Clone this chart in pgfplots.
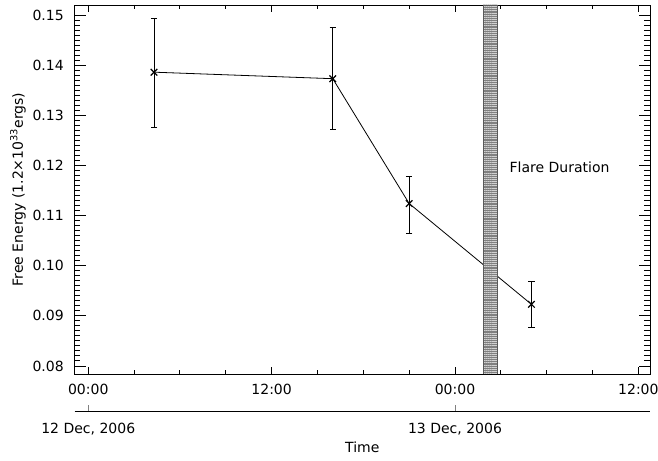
\documentclass[border=0pt]{standalone}
\usepackage{fontspec}
\setmainfont{DejaVu Sans}
\usepackage{pgfplots}
\pgfplotsset{compat=1.18}
\usetikzlibrary{patterns.meta}
\begin{document}
\begin{tikzpicture}[font=\fontsize{10.5}{12.5}\selectfont]
\useasboundingbox (-56.0pt,-65.25pt) rectangle (437.5pt,280.5pt);
\begin{axis}[
 scale only axis, width=431.5pt, height=276.75pt,
 at={(0,0)}, anchor=south west,
 font=\fontsize{10.5}{12.5}\selectfont,
 xmin=-0.89, xmax=36.76, ymin=78.4, ymax=152,
 xtick={0,12,24,36}, xticklabels={00:00,12:00,00:00,12:00},
 minor x tick num=3,
 ytick={80,90,100,110,120,130,140,150},
 yticklabels={0.08,0.09,0.10,0.11,0.12,0.13,0.14,0.15},
 minor y tick num=9,
 tick align=inside,
 major tick length=8.6pt, minor tick length=4.3pt,
 axis line style={line width=0.7pt},
 tick style={black, line width=0.7pt},
 xtick style={/pgfplots/major tick length=5.5pt,/pgfplots/minor tick length=2.8pt},
 xticklabel style={yshift=-4.2pt},
 yticklabel style={xshift=-4.7pt},
 every axis y label/.style={at={(axis description cs:-0.0986,0.5)}, rotate=90, anchor=center},
 ylabel={Free Energy (1.2×10\textsuperscript{33}ergs)},
]
% values in units of 0.001 (tick labels show the original scale)
\addplot[black, line width=0.6pt, mark=x, mark size=3.5pt, mark options={line width=0.9pt},
  error bars/.cd, y dir=both, y explicit,
  error bar style={line width=0.6pt},
  error mark options={rotate=90, mark size=2.4pt, line width=0.6pt}]
 coordinates {
 (4.3,138.6) +=(0,10.7) -=(0,11.0)
 (16.0,137.3) +=(0,10.3) -=(0,10.2)
 (21.0,112.4) +=(0,5.5) -=(0,5.9)
 (29.0,92.3) +=(0,4.6) -=(0,4.6)
 };
\addplot[draw=black!65, line width=0.5pt, fill=black!50,
  postaction={pattern={Lines[angle=0,distance=1.6pt,line width=0.55pt]}, pattern color=black!18}]
 coordinates {(25.84,78.4) (26.78,78.4) (26.78,152) (25.84,152)} -- cycle;
\node[anchor=west] at (axis cs:27.27,119.7) {Flare Duration};
\end{axis}
\begin{axis}[
 scale only axis, width=431.5pt, height=10pt,
 at={(0,-27.75pt)}, anchor=south west,
 font=\fontsize{10.5}{12.5}\selectfont,
 xmin=-0.89, xmax=36.76, ymin=0, ymax=1,
 axis x line*=bottom, axis y line=none,
 xtick={0,24}, xticklabels={{12 Dec, 2006},{13 Dec, 2006}},
 tick align=inside,
 xtick style={line width=0.7pt,/pgfplots/major tick length=4.5pt},
 axis line style={line width=0.7pt},
 xticklabel style={yshift=-5.5pt},
 xlabel={Time},
 every axis x label/.style={at={(axis description cs:0.5,0)},anchor=center,yshift=-27.5pt},
]
\end{axis}
\end{tikzpicture}
\end{document}
